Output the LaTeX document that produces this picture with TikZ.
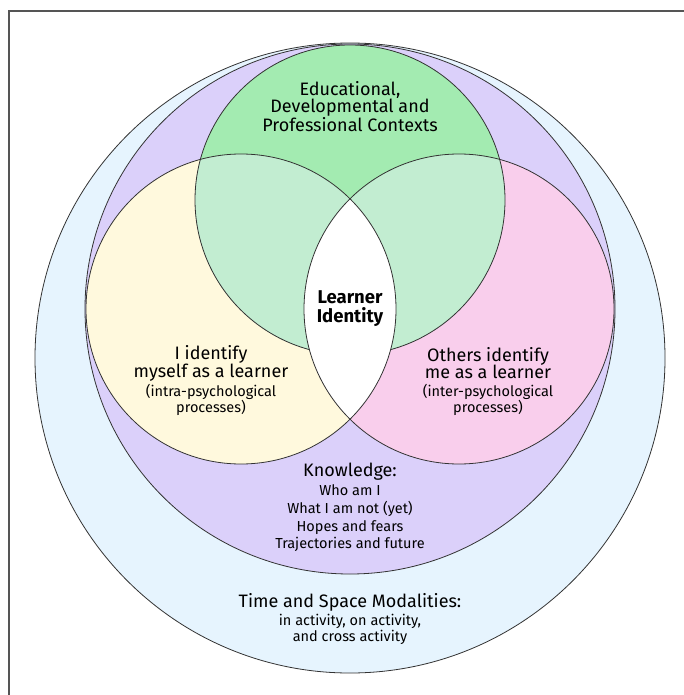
\documentclass[tikz,border=0pt]{standalone}
\usepackage{fontspec}
\setmainfont{Fira Sans}
\definecolor{cblue}{HTML}{E6F4FE}
\definecolor{cpurple}{HTML}{DBD0FA}
\definecolor{cgreen}{HTML}{A3EBB1}
\definecolor{cmint}{HTML}{C2EDD1}
\definecolor{cyellow}{HTML}{FFF9DD}
\definecolor{cpink}{HTML}{F9CEEC}
\definecolor{cline}{HTML}{333333}
\definecolor{cframe}{HTML}{555555}
\tikzset{
  outl/.style={draw=cline, line width=0.8pt},
  bigtxt/.style={inner sep=0pt, align=center, font=\fontsize{18}{17.8}\selectfont},
  smalltxt/.style={inner sep=0pt, align=center, font=\fontsize{14.5}{14}\selectfont},
  listtxt/.style={inner sep=0pt, align=center, font=\fontsize{14.5}{17.7}\selectfont},
  coretxt/.style={inner sep=0pt, align=center, font=\bfseries\fontsize{18.5}{19}\selectfont},
}
\begin{document}
\begin{tikzpicture}[x=1pt,y=-1pt]
\useasboundingbox (0,0) rectangle (684,695);
% frame (top and left edges)
\draw[cframe, line width=2pt] (684,11) -- (9,11) -- (9,695);
% centres
\coordinate (cb) at (350,358);
\coordinate (cp) at (350,309);
\coordinate (cg) at (350,200);
\coordinate (cy) at (241,309);
\coordinate (ck) at (459,309);
% outer circles
\fill[cblue] (cb) circle[radius=315pt];
\draw[outl] (cb) circle[radius=315pt];
\fill[cpurple] (cp) circle[radius=265pt];
\draw[outl] (cp) circle[radius=265pt];
% three circles
\fill[cyellow] (cy) circle[radius=155pt];
\fill[cpink] (ck) circle[radius=155pt];
\fill[cgreen] (cg) circle[radius=155pt];
\begin{scope}
  \clip (cg) circle[radius=155pt];
  \fill[cmint] (cy) circle[radius=155pt];
  \fill[cmint] (ck) circle[radius=155pt];
\end{scope}
\draw[outl] (cg) circle[radius=155pt];
\begin{scope}
  \clip (cy) circle[radius=155pt];
  \fill[white] (ck) circle[radius=155pt];
\end{scope}
\draw[outl] (cy) circle[radius=155pt];
\draw[outl] (ck) circle[radius=155pt];
% texts
\node[bigtxt] (ctx) at (350,106.5) {Educational,\\Developmental and\\Professional Contexts};
\node[coretxt] (core) at (350,308.5) {Learner\\Identity};
\node[bigtxt] (self) at (211,363) {I identify\\myself as a learner};
\node[smalltxt] (selfsub) at (211,400) {(intra-psychological\\processes)};
\node[bigtxt] (oth) at (488,363) {Others identify\\me as a learner};
\node[smalltxt] (othsub) at (488,400) {(inter-psychological\\processes)};
\node[bigtxt] (know) at (350,472) {Knowledge:};
\node[listtxt] (knowlist) at (350,518.5) {Who am I\\What I am not (yet)\\Hopes and fears\\Trajectories and future};
\node[bigtxt] (time) at (350,602) {Time and Space Modalities:};
\node[smalltxt] (timesub) at (350,629.5) {in activity, on activity,\\and cross activity};
\end{tikzpicture}
\end{document}
